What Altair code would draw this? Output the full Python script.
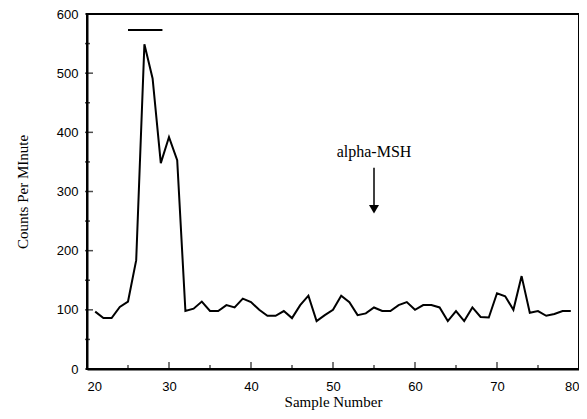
import altair as alt
import pandas as pd

samples = list(range(21, 80))
counts = [97, 86, 86, 105, 114, 184, 549, 491, 348, 392, 353, 98,
          102, 114, 98, 98, 108, 104, 119, 113, 100, 90, 90, 98, 86,
          108, 124, 81, 91, 100, 124, 113, 91, 94, 104, 98, 98, 108,
          113, 100, 108, 108, 104, 81, 98, 81, 104, 88, 87, 128, 123,
          100, 157, 95, 98, 90, 93, 98, 98]

bar_x = [25, 29.2]
bar_y = 573
arrow_x = 55
arrow_top = 340
arrow_tip = 262
label_text = "alpha-MSH"
label_y = 353

x_major = [20, 30, 40, 50, 60, 70, 80]
x_minor = [25, 35, 45, 55, 65, 75]
y_major = [0, 100, 200, 300, 400, 500, 600]
y_minor = [50, 150, 250, 350, 450, 550]

W, H = 492, 355
xs = alt.Scale(domain=[20, 80], nice=False, zero=False)
ys = alt.Scale(domain=[0, 600], nice=False)

df = pd.DataFrame({"x": samples, "y": counts})

line = alt.Chart(df).mark_line(color="black", strokeWidth=2).encode(
    x=alt.X("x:Q", scale=xs,
            axis=alt.Axis(title="Sample Number", values=x_major, format="d",
                          grid=False, ticks=False, labelPadding=11,
                          labelFont="Liberation Sans", labelFontSize=13, labelColor="black",
                          titleFont="Liberation Serif", titleFontSize=15, titleFontWeight="normal",
                          titleColor="black", titlePadding=1,
                          domainColor="black", domainWidth=2)),
    y=alt.Y("y:Q", scale=ys,
            axis=alt.Axis(title="Counts Per MInute", values=y_major, format="d",
                          grid=False, ticks=False, labelPadding=9,
                          labelFont="Liberation Sans", labelFontSize=13, labelColor="black",
                          titleFont="Liberation Serif", titleFontSize=15, titleFontWeight="normal",
                          titleColor="black", titlePadding=26,
                          domainColor="black", domainWidth=2)),
)

bar = alt.Chart(pd.DataFrame({"x": [bar_x[0]], "x2": [bar_x[1]], "y": [bar_y]})).mark_rule(
    color="black", strokeWidth=2).encode(
    x=alt.X("x:Q", scale=xs), x2="x2:Q", y=alt.Y("y:Q", scale=ys))

arrow_line = alt.Chart(pd.DataFrame({"x": [arrow_x], "y": [arrow_top], "y2": [arrow_tip + 8]})).mark_rule(
    color="black", strokeWidth=1.5).encode(
    x=alt.X("x:Q", scale=xs), y=alt.Y("y:Q", scale=ys), y2="y2:Q")

arrow_head = alt.Chart(pd.DataFrame({"x": [arrow_x], "y": [arrow_tip + 8]})).mark_point(
    shape="triangle-down", filled=True, color="black", size=100, opacity=1).encode(
    x=alt.X("x:Q", scale=xs), y=alt.Y("y:Q", scale=ys))

label = alt.Chart(pd.DataFrame({"x": [arrow_x], "y": [label_y], "t": [label_text]})).mark_text(
    font="Liberation Serif", fontSize=16, color="black", align="center", baseline="bottom").encode(
    x=alt.X("x:Q", scale=xs), y=alt.Y("y:Q", scale=ys), text="t:N")

def xticks(vals, size):
    return alt.Chart(pd.DataFrame({"x": vals, "y": [0] * len(vals)})).mark_tick(
        color="black", thickness=1.5, size=size, orient="vertical", yOffset=-size / 2).encode(
        x=alt.X("x:Q", scale=xs), y=alt.Y("y:Q", scale=ys))

def yticks(vals, size):
    return alt.Chart(pd.DataFrame({"y": vals, "x": [20] * len(vals)})).mark_tick(
        color="black", thickness=1.5, size=size, orient="horizontal", xOffset=size / 2 - 2).encode(
        y=alt.Y("y:Q", scale=ys), x=alt.X("x:Q", scale=xs))

chart = alt.layer(
    line, bar, arrow_line, arrow_head, label,
    xticks(x_major, 7), xticks(x_minor, 4), yticks(y_major, 8), yticks(y_minor, 5)
).properties(
    width=W, height=H,
    autosize=alt.AutoSizeParams(type="none"),
    padding={"left": 79, "top": 6, "right": 0, "bottom": 42},
).configure(
    background="white"
).configure_view(
    stroke="black", strokeWidth=2
)

chart.save("out.html", embed_options={"renderer": "svg", "actions": False})
